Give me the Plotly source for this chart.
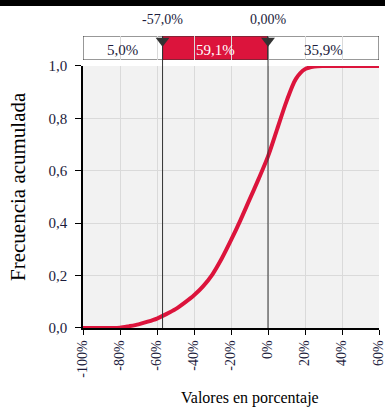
import plotly.graph_objects as go

# Cumulative distribution (x in %, y cumulative frequency)
x_pct = [-100, -95, -90, -85, -80, -75, -70, -65, -60, -55, -50, -45, -40, -35, -30,
         -25, -20, -15, -10, -5, 0, 5, 10, 15, 20, 25, 30, 35, 40, 45, 50, 55, 60]
cum_freq = [0.0, 0.0, 0.0, 0.0, 0.001, 0.007, 0.014, 0.024, 0.036, 0.053, 0.072, 0.097,
            0.125, 0.16, 0.205, 0.265, 0.335, 0.41, 0.49, 0.57, 0.655, 0.76, 0.865,
            0.95, 0.988, 0.998, 1.0, 1.0, 1.0, 1.0, 1.0, 1.0, 1.0]

# Band delimiters and shares
x_min, x_max = -100, 60
cut_left, cut_right = -57, 0
cut_labels = ["-57,0%", "0,00%"]
band_shares = ["5,0%", "59,1%", "35,9%"]

x_tickvals = [-100, -80, -60, -40, -20, 0, 20, 40, 60]
x_ticktext = ["-100%", "-80%", "-60%", "-40%", "-20%", "0%", "20%", "40%", "60%"]
y_tickvals = [0, 0.2, 0.4, 0.6, 0.8, 1.0]
y_ticktext = ["0,0", "0,2", "0,4", "0,6", "0,8", "1,0"]
x_title = "Valores en porcentaje"
y_title = "Frecuencia acumulada"

RED = "#dc143c"
FONT = "Liberation Serif"
TXT = "#1c1c3c"

fig = go.Figure()
fig.add_trace(go.Scatter(x=x_pct, y=cum_freq, mode="lines",
                         line=dict(color=RED, width=4, shape="spline", smoothing=0.8),
                         hoverinfo="skip", showlegend=False, cliponaxis=False))

# triangles on band subplot
fig.add_trace(go.Scatter(x=[cut_left, cut_right], y=[0.8, 0.8], xaxis="x", yaxis="y2",
                         mode="markers", marker=dict(symbol="triangle-down", size=12,
                                                     color="#333333"),
                         cliponaxis=False, showlegend=False, hoverinfo="skip"))

# band rectangles
segs = [(x_min, cut_left, "white"), (cut_left, cut_right, RED), (cut_right, x_max, "white")]
for (a, b, c), lab in zip(segs, band_shares):
    fig.add_shape(type="rect", xref="x", yref="y2", x0=a, x1=b, y0=0, y1=1,
                  fillcolor=c, line=dict(color="#333333", width=1), layer="below")
    fig.add_annotation(x=(a + b) / 2, y=0.42, xref="x", yref="y2", text=lab,
                       showarrow=False,
                       font=dict(family=FONT, size=15,
                                 color="white" if c == RED else TXT))

# vertical cut lines across band + plot
for v in (cut_left, cut_right):
    fig.add_shape(type="line", xref="x", yref="paper", x0=v, x1=v, y0=0, y1=1,
                  line=dict(color="#333333", width=1))
for v, lab in zip((cut_left, cut_right), cut_labels):
    fig.add_annotation(x=v, y=1, xref="x", yref="y2", text=lab, showarrow=False,
                       yanchor="bottom", yshift=7,
                       font=dict(family=FONT, size=14, color=TXT))

# axis titles (placed as annotations to match the reference offsets)
fig.add_annotation(x=0.564, y=0, xref="paper", yref="paper", text=x_title,
                   showarrow=False, yanchor="top", yshift=-59,
                   font=dict(family=FONT, size=16, color="black"))
fig.add_annotation(x=0, y=0.483, xref="paper", yref="paper", text=y_title,
                   showarrow=False, textangle=-90, xanchor="center", xshift=-65,
                   font=dict(family=FONT, size=21, color="black"))

# black strip at the very top
fig.add_shape(type="rect", xref="paper", yref="paper", x0=-0.3, x1=1.1,
              y0=1.103, y1=1.13, fillcolor="black", line=dict(width=0))

fig.update_layout(
    width=385, height=410,
    margin=dict(l=83, r=6, t=36, b=82),
    paper_bgcolor="white", plot_bgcolor="#f2f2f2",
    font=dict(family=FONT, color=TXT, size=15),
    xaxis=dict(range=[x_min, x_max], tickvals=x_tickvals, ticktext=x_ticktext,
               tickangle=-90, showgrid=True, gridcolor="#dadada", gridwidth=1,
               zeroline=False, showline=True, linecolor="black", linewidth=1.5,
               ticks="outside", ticklen=5, tickcolor="black", automargin=False,
               ticklabeloverflow="allow", ticklabelshift=-1,
               tickfont=dict(size=14)),
    yaxis=dict(domain=[0, 0.8973], range=[0, 1.0], tickvals=y_tickvals,
               ticktext=y_ticktext, showgrid=True, gridcolor="#dadada",
               zeroline=False, showline=True, linecolor="black", linewidth=1.5,
               ticks="outside", ticklen=6, tickcolor="black", automargin=False,
               ticklabelstandoff=5,
               tickfont=dict(size=15)),
    yaxis2=dict(domain=[0.9178, 1.0], range=[0, 1], visible=False, fixedrange=True),
)

fig.write_html("out.html", config={"displayModeBar": False},
               post_script="document.body.style.margin='0px';document.body.style.overflow='hidden';")
